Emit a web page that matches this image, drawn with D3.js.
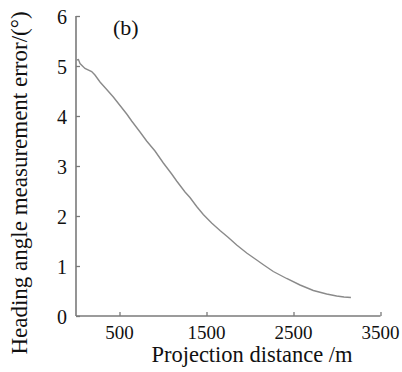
<!DOCTYPE html>
<html>
<head>
<meta charset="utf-8">
<script src="https://cdn.jsdelivr.net/npm/d3@7"></script>
<style>
  html, body { margin: 0; padding: 0; background: #fff; }
  svg { display: block; }
  text { font-family: "Liberation Serif", "Times New Roman", serif; fill: #111; }
</style>
</head>
<body>
<svg id="chart" width="402" height="372"></svg>
<script>
const distances = [8, 28, 46, 103, 180, 218, 276, 353, 429, 506, 583, 640, 736, 812, 908, 1004, 1100, 1157, 1253, 1310, 1387, 1463, 1559, 1655, 1751, 1847, 1962, 2077, 2150, 2268, 2421, 2575, 2728, 2881, 2996, 3080, 3160];
const errors    = [5.12, 5.13, 5.05, 4.95, 4.89, 4.82, 4.68, 4.53, 4.38, 4.21, 4.04, 3.90, 3.68, 3.50, 3.30, 3.06, 2.84, 2.70, 2.48, 2.37, 2.19, 2.03, 1.86, 1.71, 1.57, 1.42, 1.26, 1.12, 1.03, 0.89, 0.75, 0.62, 0.51, 0.44, 0.40, 0.38, 0.37];
const xTicks = [500, 1500, 2500, 3500];
const yTicks = [0, 1, 2, 3, 4, 5, 6];
const xTitle = "Projection distance /m";
const yTitle = "Heading angle measurement error/(°)";
const panelLabel = "(b)";

const svg = d3.select("#chart");
const x = d3.scaleLinear().domain([0, 3500]).range([76, 380.5]);
const y = d3.scaleLinear().domain([0, 6]).range([316, 16]);
const axisColor = "#7a7a7a";

// X axis
const gx = svg.append("g").attr("transform", `translate(0,${y(0)})`)
  .call(d3.axisTop(x).tickValues(xTicks).tickSize(4).tickFormat(""));
gx.select(".domain").attr("stroke", axisColor).attr("stroke-width", 1.6)
  .attr("d", `M${x(0)},0H${x(3500)}`);
gx.selectAll(".tick line").attr("stroke", axisColor).attr("stroke-width", 1.3);

svg.append("g").selectAll("text").data(xTicks).join("text")
  .attr("x", d => x(d)).attr("y", 339)
  .attr("text-anchor", "middle").attr("font-size", 19).text(d => d);

// Y axis
const gy = svg.append("g").attr("transform", `translate(${x(0)},0)`)
  .call(d3.axisRight(y).tickValues(yTicks).tickSize(4).tickFormat(""));
gy.select(".domain").attr("stroke", axisColor).attr("stroke-width", 1.6)
  .attr("d", `M0,${y(6)}V${y(0)}`);
gy.selectAll(".tick line").attr("stroke", axisColor).attr("stroke-width", 1.3);

svg.append("g").selectAll("text").data(yTicks).join("text")
  .attr("x", 67).attr("y", d => y(d) + 8)
  .attr("text-anchor", "end").attr("font-size", 20).text(d => d);

// Curve
const line = d3.line().x((d, i) => x(distances[i])).y(d => y(d));
svg.append("path").datum(errors)
  .attr("fill", "none").attr("stroke", "#8a8a8a").attr("stroke-width", 1.4)
  .attr("d", line);

// Titles
svg.append("text").attr("x", 252).attr("y", 362)
  .attr("text-anchor", "middle").attr("font-size", 22.5).text(xTitle);
svg.append("text").attr("transform", "translate(27,183) rotate(-90)")
  .attr("text-anchor", "middle").attr("font-size", 23).text(yTitle);
svg.append("text").attr("x", 113).attr("y", 35)
  .attr("font-size", 22).text(panelLabel);
</script>
</body>
</html>
